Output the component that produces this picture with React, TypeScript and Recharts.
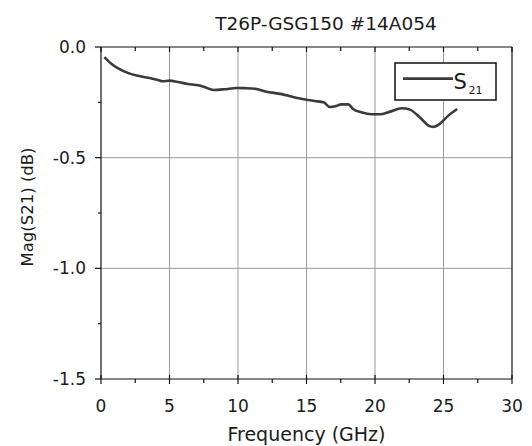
import React from "react";
import { LineChart, Line, XAxis, YAxis, ReferenceLine, Legend } from "recharts";

const freqGHz = [0.25, 0.75, 1.25, 2.0, 2.7, 3.45, 4.15, 4.5, 5.0, 5.6, 6.35, 7.1, 7.6, 8.2, 9.0, 9.9, 10.5, 11.25, 12.0, 13.2, 14.15, 15.0, 15.6, 16.25, 16.7, 17.1, 17.55, 18.05, 18.4, 19.0, 19.75, 20.35, 21.1, 21.95, 22.55, 23.3, 23.9, 24.25, 24.75, 25.35, 26.0];
const magS21 = [-0.046, -0.076, -0.097, -0.118, -0.13, -0.139, -0.149, -0.155, -0.152, -0.158, -0.167, -0.173, -0.182, -0.194, -0.191, -0.185, -0.186, -0.189, -0.201, -0.213, -0.228, -0.238, -0.244, -0.25, -0.271, -0.268, -0.259, -0.259, -0.28, -0.295, -0.304, -0.304, -0.292, -0.277, -0.283, -0.32, -0.355, -0.361, -0.346, -0.31, -0.28];

const xTicks = [0, 2.5, 5, 7.5, 10, 12.5, 15, 17.5, 20, 22.5, 25, 27.5, 30];
const yTicks = [-1.5, -1.25, -1.0, -0.75, -0.5, -0.25, 0.0];
const xGrid = [5, 10, 15, 20, 25];
const yGrid = [-0.5, -1.0];

const title = "T26P-GSG150 #14A054";
const xLabel = "Frequency (GHz)";
const yLabel = "Mag(S21) (dB)";
const seriesName = "S";
const seriesSub = "21";

const data = freqGHz.map((f, i) => ({ f, m: magS21[i] }));

const FONT = "DejaVu Sans";
const TEXT = "#1a1a1a";
const AXIS = "#111";
const CURVE = "#3a3a3a";

const isMajorX = (v: number) => Math.abs(v % 5) < 1e-9;
const isMajorY = (v: number) => Math.abs((v * 2) % 1) < 1e-9;

const BottomTick = (props: any) => {
  const { x, y, payload } = props;
  const v = payload.value;
  const major = isMajorX(v);
  return (
    <g>
      <line x1={x} x2={x} y1={major ? y - 4 : y} y2={major ? y + 5 : y + 4} stroke={AXIS} strokeWidth={1.2} />
      {major && (
        <text x={x} y={y + 33} textAnchor="middle" fontFamily={FONT} fontSize={17} fill={TEXT}>
          {String(v)}
        </text>
      )}
    </g>
  );
};

const TopTick = (props: any) => {
  const { x, y, payload } = props;
  const major = isMajorX(payload.value);
  return <line x1={x} x2={x} y1={y} y2={major ? y + 5 : y + 4} stroke={AXIS} strokeWidth={1.2} />;
};

const LeftTick = (props: any) => {
  const { x, y, payload } = props;
  const v = payload.value;
  const major = isMajorY(v);
  return (
    <g>
      <line x1={major ? x - 6 : x - 3} x2={x} y1={y} y2={y} stroke={AXIS} strokeWidth={1.2} />
      {major && (
        <text x={x - 15} y={y + 6} textAnchor="end" fontFamily={FONT} fontSize={17} fill={TEXT}>
          {v.toFixed(1)}
        </text>
      )}
    </g>
  );
};

const RightTick = (props: any) => {
  const { x, y, payload } = props;
  const major = isMajorY(payload.value);
  return <line x1={x} x2={major ? x + 5 : x + 4} y1={y} y2={y} stroke={AXIS} strokeWidth={1.2} />;
};

const TitleLabel = () => (
  <text x={326} y={30} textAnchor="middle" fontFamily={FONT} fontSize={18.5} fill={TEXT}>
    {title}
  </text>
);

const XLabel = () => (
  <text x={306.5} y={441} textAnchor="middle" fontFamily={FONT} fontSize={19} fill={TEXT}>
    {xLabel}
  </text>
);

const YLabel = () => (
  <text x={33} y={207} textAnchor="middle" transform="rotate(-90 33 207)" fontFamily={FONT} fontSize={16.5} fill={TEXT}>
    {yLabel}
  </text>
);

const LegendContent = () => (
  <svg width={104} height={40} style={{ display: "block" }}>
    <rect x={1} y={1} width={101} height={37} fill="#fff" stroke={AXIS} strokeWidth={1.5} />
    <line x1={9} x2={59} y1={16.7} y2={16.7} stroke={CURVE} strokeWidth={2.7} />
    <text x={59.5} y={26.7} fontFamily={FONT} fontSize={21} fill={TEXT}>
      {seriesName}
    </text>
    <text x={74.5} y={31.7} fontFamily={FONT} fontSize={11} fill={TEXT}>
      {seriesSub}
    </text>
  </svg>
);

export default function App() {
  return (
    <div style={{ position: "absolute", left: 0, top: 0, background: "#fff" }}>
      <LineChart width={532} height={446} data={data} margin={{ top: 46, right: 19, bottom: 37, left: 41 }}>
        {xGrid.map((v) => (
          <ReferenceLine key={"gx" + v} x={v} xAxisId="b" yAxisId="l" stroke="#9a9a9a" strokeWidth={1} />
        ))}
        {yGrid.map((v) => (
          <ReferenceLine key={"gy" + v} y={v} xAxisId="b" yAxisId="l" stroke="#9a9a9a" strokeWidth={1} />
        ))}
        <XAxis
          xAxisId="b"
          dataKey="f"
          type="number"
          domain={[0, 30]}
          ticks={xTicks}
          interval={0}
          height={30}
          tickSize={0}
          tickMargin={0}
          tickLine={false}
          axisLine={{ stroke: AXIS, strokeWidth: 1.2 }}
          tick={(p: any) => <BottomTick {...p} />}
          label={<XLabel />}
        />
        <XAxis
          xAxisId="t"
          orientation="top"
          dataKey="f"
          type="number"
          domain={[0, 30]}
          ticks={xTicks}
          interval={0}
          height={1}
          tickSize={0}
          tickMargin={0}
          tickLine={false}
          axisLine={{ stroke: AXIS, strokeWidth: 1.2 }}
          tick={(p: any) => <TopTick {...p} />}
          label={<TitleLabel />}
        />
        <YAxis
          yAxisId="l"
          type="number"
          domain={[-1.5, 0]}
          ticks={yTicks}
          interval={0}
          width={60}
          tickSize={0}
          tickMargin={0}
          tickLine={false}
          axisLine={{ stroke: AXIS, strokeWidth: 1.2 }}
          tick={(p: any) => <LeftTick {...p} />}
          label={<YLabel />}
        />
        <YAxis
          yAxisId="r"
          orientation="right"
          type="number"
          domain={[-1.5, 0]}
          ticks={yTicks}
          interval={0}
          width={1}
          tickSize={0}
          tickMargin={0}
          tickLine={false}
          axisLine={{ stroke: AXIS, strokeWidth: 1.2 }}
          tick={(p: any) => <RightTick {...p} />}
        />
        <Legend
          layout="horizontal"
          verticalAlign="middle"
          align="center"
          content={() => <LegendContent />}
          wrapperStyle={{ position: "absolute", left: 394, top: 62, width: 104, height: 40 }}
        />
        <Line
          xAxisId="b"
          yAxisId="l"
          type="monotone"
          dataKey="m"
          name="S21"
          stroke={CURVE}
          strokeWidth={2.6}
          dot={false}
          isAnimationActive={false}
        />
      </LineChart>
    </div>
  );
}
